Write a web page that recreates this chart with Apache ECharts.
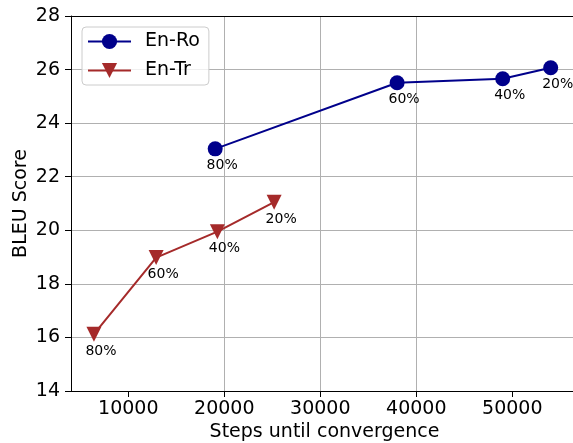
<!DOCTYPE html>
<html>
<head>
<meta charset="utf-8">
<script src="https://cdn.jsdelivr.net/npm/echarts@6/dist/echarts.min.js"></script>
<style>
html,body{margin:0;padding:0;background:#fff;overflow:hidden;width:100%;height:100%;}
#c{width:578px;height:100vh;}
</style>
</head>
<body>
<div id="c"></div>
<script>
// Data
const enRoSteps = [19050, 38000, 49000, 54000];
const enRoBleu  = [23.04, 25.51, 25.66, 26.07];
const enRoLabels = ['80%', '60%', '40%', '20%'];
const enTrSteps = [6420, 12900, 19280, 25190];
const enTrBleu  = [16.12, 18.98, 19.95, 21.05];
const enTrLabels = ['80%', '60%', '40%', '20%'];
const xTicks = [10000, 20000, 30000, 40000, 50000];
const seriesNames = ['En-Ro', 'En-Tr'];

const FONT = 'DejaVu Sans';
const chart = echarts.init(document.getElementById('c'), null, {renderer: 'canvas'});

function pts(xs, ys, labels) {
  return xs.map((x, i) => ({value: [x, ys[i]], label: {formatter: labels[i]}}));
}

const labelStyle = {
  show: true, position: 'inside', offset: [7, 17],
  color: '#000', fontFamily: FONT, fontSize: 14
};

// plot spans 71..578 px; 96 px per 10000 steps
const X_MIN = 4031, X_MAX = 56844;

chart.setOption({
  animation: false,
  backgroundColor: '#fff',
  grid: {
    left: 71, top: 16, right: 0, bottom: 52,
    containLabel: false, outerBoundsMode: 'none',
    show: false
  },
  legend: {
    orient: 'vertical',
    left: 82, top: 27,
    padding: [5, 9, 5, 5],
    itemWidth: 43, itemHeight: 19, itemGap: 10,
    backgroundColor: 'rgba(255,255,255,0.8)',
    borderColor: '#cccccc', borderWidth: 1, borderRadius: 4,
    textStyle: {fontFamily: FONT, fontSize: 19, color: '#000', padding: [0, 0, 0, 9]},
    data: seriesNames
  },
  xAxis: [{
    type: 'value',
    min: X_MIN, max: X_MAX,
    name: 'Steps until convergence',
    nameLocation: 'middle', nameGap: 32, nameMoveOverlap: false,
    nameTextStyle: {fontFamily: FONT, fontSize: 19, color: '#000'},
    axisLine: {show: true, lineStyle: {color: '#000', width: 1}},
    axisTick: {show: true, length: 6, lineStyle: {color: '#000'}, customValues: xTicks},
    axisLabel: {fontFamily: FONT, fontSize: 19, color: '#000', margin: 9, customValues: xTicks,
      formatter: v => String(v)},
    splitLine: {show: true, showMinLine: false, showMaxLine: false, lineStyle: {color: '#b0b0b0', width: 1}}
  }, {
    type: 'value', position: 'top',
    min: X_MIN, max: X_MAX,
    axisLine: {show: true, lineStyle: {color: '#000', width: 1}},
    axisTick: {show: false}, axisLabel: {show: false}, splitLine: {show: false}
  }],
  yAxis: {
    type: 'value',
    min: 14, max: 28, interval: 2,
    name: 'BLEU Score',
    nameLocation: 'middle', nameGap: 40, nameMoveOverlap: false,
    nameTextStyle: {fontFamily: FONT, fontSize: 19, color: '#000'},
    axisLine: {show: true, lineStyle: {color: '#000', width: 1}},
    axisTick: {show: true, length: 6, lineStyle: {color: '#000'}},
    axisLabel: {fontFamily: FONT, fontSize: 19, color: '#000', margin: 11},
    splitLine: {show: true, lineStyle: {color: '#b0b0b0', width: 1}}
  },
  series: [
    {
      name: seriesNames[0], type: 'line',
      data: pts(enRoSteps, enRoBleu, enRoLabels),
      symbol: 'circle', symbolSize: 15,
      lineStyle: {color: '#00008b', width: 2},
      itemStyle: {color: '#00008b'},
      label: labelStyle,
      z: 3
    },
    {
      name: seriesNames[1], type: 'line',
      data: pts(enTrSteps, enTrBleu, enTrLabels),
      symbol: 'triangle', symbolRotate: 180, symbolSize: 15,
      lineStyle: {color: '#a52a2a', width: 2},
      itemStyle: {color: '#a52a2a'},
      label: labelStyle,
      z: 3
    }
  ]
});
</script>
</body>
</html>
